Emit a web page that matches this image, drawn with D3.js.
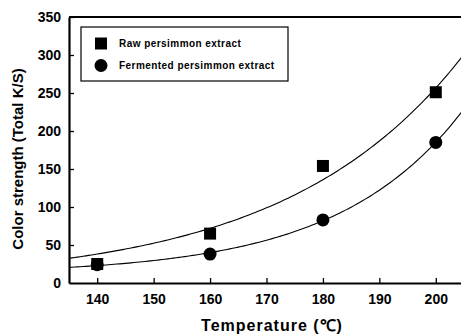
<!DOCTYPE html>
<html>
<head>
<meta charset="utf-8">
<script src="https://cdn.jsdelivr.net/npm/d3@7"></script>
<style>
  body { margin: 0; background: #fff; }
  svg { display: block; font-family: "Liberation Sans", Arial, sans-serif; }
</style>
</head>
<body>
<svg id="chart" width="461" height="336"></svg>
<script>
// data
const temps = [140, 160, 180, 200];
const rawVals = [25, 65, 154, 251];
const fermVals = [24, 38, 83, 185];
const xTicks = [140, 150, 160, 170, 180, 190, 200];
const yTicks = [0, 50, 100, 150, 200, 250, 300, 350];

const svg = d3.select('#chart');
const margin = { top: 17, right: -3, bottom: 53, left: 69 };
const W = 461, H = 336;
const width = W - margin.left - margin.right;
const height = H - margin.top - margin.bottom;
const g = svg.append('g').attr('transform', `translate(${margin.left},${margin.top})`);

const x = d3.scaleLinear().domain([135, 205]).range([0, width]);
const y = d3.scaleLinear().domain([0, 350]).range([height, 0]);

// exponential fit y = y0 + a*exp(b*(t-140)), least squares over b grid
function expFit(xs, ys, withOffset) {
  let best = null;
  for (let b = 0.001; b <= 0.1; b += 0.0002) {
    const f = xs.map(t => Math.exp(b * (t - 140)));
    let a, y0 = 0;
    if (withOffset) {
      const mf = d3.mean(f), my = d3.mean(ys);
      let sff = 0, sfy = 0;
      f.forEach((v, i) => { sff += (v - mf) ** 2; sfy += (v - mf) * (ys[i] - my); });
      a = sfy / sff; y0 = my - a * mf;
    } else {
      a = d3.sum(f.map((v, i) => v * ys[i])) / d3.sum(f.map(v => v * v));
    }
    const sse = d3.sum(f.map((v, i) => (y0 + a * v - ys[i]) ** 2));
    if (!best || sse < best.sse) best = { a, b, y0, sse };
  }
  return t => best.y0 + best.a * Math.exp(best.b * (t - 140));
}

svg.append('clipPath').attr('id', 'plotclip')
  .append('rect').attr('width', width).attr('height', height);

const curveX = d3.range(135, 205.01, 0.5);
const line = d3.line().x(d => x(d[0])).y(d => y(d[1]));
[[rawVals, false], [fermVals, true]].forEach(([vals, off]) => {
  const fn = expFit(temps, vals, off);
  g.append('path')
    .attr('clip-path', 'url(#plotclip)')
    .attr('d', line(curveX.map(t => [t, fn(t)])))
    .attr('fill', 'none').attr('stroke', '#000').attr('stroke-width', 1.1);
});

// axes
const xAxis = g.append('g').attr('transform', `translate(0,${height})`)
  .call(d3.axisBottom(x).tickValues(xTicks).tickSizeInner(-5).tickSizeOuter(0).tickPadding(11));
const yAxis = g.append('g')
  .call(d3.axisLeft(y).tickValues(yTicks).tickSizeInner(-5).tickSizeOuter(0).tickPadding(8));
[xAxis, yAxis].forEach(a => {
  a.select('.domain').attr('stroke-width', 2.2);
  a.selectAll('.tick line').attr('stroke-width', 1.3);
  a.selectAll('text').attr('font-size', 14).attr('font-weight', 'bold').attr('font-family', '"Liberation Sans", Arial, sans-serif');
});
yAxis.selectAll('.tick').filter(d => d === 0).select('line').remove();

// top border
g.append('line').attr('x1', 0).attr('x2', width).attr('y1', 0).attr('y2', 0)
  .attr('stroke', '#000').attr('stroke-width', 2.2);

// markers
g.selectAll('.raw').data(temps).enter().append('rect')
  .attr('x', (d) => x(d) - 6).attr('y', (d, i) => y(rawVals[i]) - 6)
  .attr('width', 12).attr('height', 12).attr('fill', '#000');
g.selectAll('.ferm').data(temps).enter().append('circle')
  .attr('cx', d => x(d)).attr('cy', (d, i) => y(fermVals[i]))
  .attr('r', 6.5).attr('fill', '#000');

// legend
const lg = svg.append('g').attr('transform', 'translate(81,27)');
lg.append('rect').attr('width', 207).attr('height', 54)
  .attr('fill', '#fff').attr('stroke', '#000').attr('stroke-width', 1.2);
lg.append('rect').attr('x', 14).attr('y', 10.5).attr('width', 12).attr('height', 12).attr('fill', '#000');
lg.append('circle').attr('cx', 20).attr('cy', 38.5).attr('r', 6.5).attr('fill', '#000');
lg.selectAll('.lt').data(['Raw persimmon extract', 'Fermented persimmon extract']).enter()
  .append('text')
  .attr('x', 38).attr('y', (d, i) => 16.5 + i * 22)
  .attr('dy', '0.35em')
  .attr('font-size', 10).attr('font-weight', 'bold').attr('letter-spacing', 0.45)
  .text(d => d);

// titles
svg.append('text').attr('x', 272).attr('y', 331)
  .attr('text-anchor', 'middle').attr('font-size', 16).attr('font-weight', 'bold')
  .attr('letter-spacing', 1)
  .text('Temperature (℃)');
svg.append('text').attr('transform', 'translate(23,159) rotate(-90)')
  .attr('text-anchor', 'middle').attr('font-size', 15).attr('font-weight', 'bold')
  .text('Color strength (Total K/S)');
</script>
</body>
</html>
